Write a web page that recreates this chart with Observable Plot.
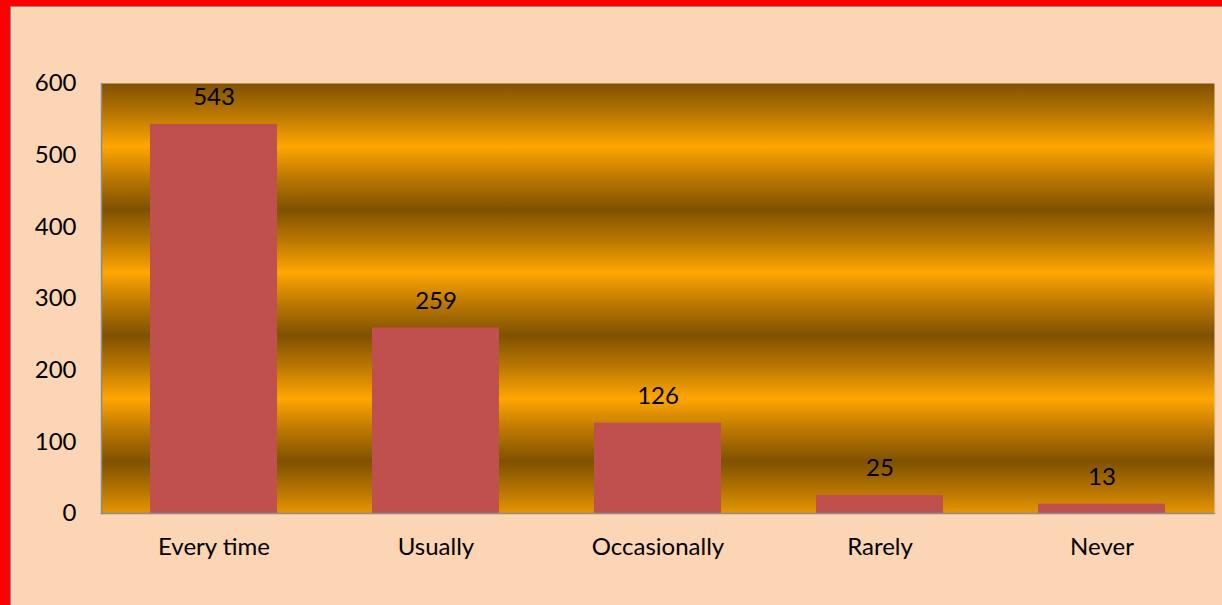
<!DOCTYPE html>
<html>
<head>
<meta charset="utf-8">
<script src="https://cdn.jsdelivr.net/npm/d3@7"></script>
<script src="https://cdn.jsdelivr.net/npm/@observablehq/plot@0.6"></script>
<style>
  html, body { margin: 0; padding: 0; }
  body { width: 1222px; height: 605px; overflow: hidden; background: #ff0000; position: relative; }
  #panel { position: absolute; left: 10px; top: 6px; width: 1211px; height: 598px; background: #fcd5b4; border-left: 1.5px solid #8c8c8c; border-top: 1.5px solid #8c8c8c; }
  #chart { position: absolute; left: 0; top: 0; }
</style>
</head>
<body>
<div id="panel"></div>
<div id="chart"></div>
<script>
const categories = ["Every time", "Usually", "Occasionally", "Rarely", "Never"];
const values = [543, 259, 126, 25, 13];
const yTicks = [0, 100, 200, 300, 400, 500, 600];

const data = categories.map((c, i) => ({category: c, value: values[i]}));

const font = "Lato, 'Liberation Sans', sans-serif";

const chart = Plot.plot({
  width: 1222,
  height: 605,
  marginLeft: 101,
  marginRight: 8,
  marginTop: 83,
  marginBottom: 92,
  style: {background: "transparent", fontFamily: font, fontSize: "24px", color: "#000"},
  x: {domain: categories, paddingInner: 0.43, paddingOuter: 0.215, label: null},
  y: {domain: [0, 600], label: null},
  marks: [
    Plot.frame({fill: "url(#goldGrad)", stroke: null}),
    Plot.barY(data, {x: "category", y: "value", fill: "#c0504d"}),
    Plot.text(data, {x: "category", y: "value", text: d => String(d.value), dy: -27, fill: "#000", fontSize: 24, lineAnchor: "middle"}),
    Plot.axisY({ticks: yTicks, tickSize: 0, tickPadding: 25, fontSize: 24, label: null}),
    Plot.axisX({tickSize: 0, tickPadding: 24, fontSize: 24, label: null}),
    Plot.frame({anchor: "left", stroke: "#8c8c8c", strokeWidth: 1.5}),
    Plot.frame({anchor: "bottom", stroke: "#8c8c8c", strokeWidth: 1.5})
  ]
});

// gold banded gradient definition
const ns = "http://www.w3.org/2000/svg";
const defs = document.createElementNS(ns, "defs");
const grad = document.createElementNS(ns, "linearGradient");
grad.setAttribute("id", "goldGrad");
grad.setAttribute("gradientUnits", "userSpaceOnUse");
grad.setAttribute("x1", "0");
grad.setAttribute("x2", "0");
grad.setAttribute("y1", "83");
grad.setAttribute("y2", "209");
grad.setAttribute("spreadMethod", "repeat");
[[0, "#7f5100"], [0.25, "#bb7800"], [0.5, "#ffa600"], [0.75, "#bb7800"], [1, "#7f5100"]].forEach(([o, c]) => {
  const s = document.createElementNS(ns, "stop");
  s.setAttribute("offset", o);
  s.setAttribute("stop-color", c);
  grad.appendChild(s);
});
defs.appendChild(grad);
chart.insertBefore(defs, chart.firstChild);

document.getElementById("chart").appendChild(chart);
</script>
</body>
</html>
